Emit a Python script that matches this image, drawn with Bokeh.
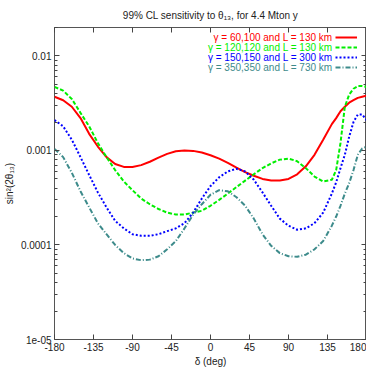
from bokeh.plotting import figure
from bokeh.models import (FixedTicker, LogAxis, LinearAxis, CustomJSTickFormatter,
                          Label, Legend, LegendItem, Range1d)
from bokeh.embed import file_html
from bokeh.resources import INLINE

# ---- data -------------------------------------------------------------
delta = [-180, -170, -160, -150, -140, -130, -120, -110, -100, -90, -80, -70,
         -60, -50, -40, -30, -20, -10, 0, 10, 20, 30, 40, 50, 60, 70, 80, 90,
         100, 110, 120, 130, 140, 145, 150, 155, 160, 165, 170, 175, 180]

red_60_100 = [0.0037, 0.0034, 0.0029, 0.0022, 0.0015, 0.0011, 0.00085, 0.00072,
              0.00067, 0.00067, 0.00070, 0.00076, 0.00084, 0.00092, 0.00098,
              0.0010, 0.00099, 0.00095, 0.00089, 0.00082, 0.00074, 0.00066,
              0.00059, 0.00054, 0.00050, 0.00048, 0.00048, 0.00050, 0.00056,
              0.00068, 0.0009, 0.0013, 0.0019, 0.0022, 0.0026, 0.0029, 0.0032,
              0.0034, 0.0036, 0.0037, 0.0038]

green_120_120 = [0.0047, 0.0043, 0.0035, 0.0025, 0.0018, 0.0012, 0.00085,
                 0.00062, 0.00047, 0.00038, 0.00031, 0.00027, 0.00024, 0.00022,
                 0.00021, 0.00021, 0.00022, 0.00023, 0.00026, 0.00030, 0.00035,
                 0.00041, 0.00048, 0.00056, 0.00065, 0.00073, 0.00080, 0.00082,
                 0.00077, 0.00065, 0.00053, 0.00047, 0.00049, 0.00062, 0.0012,
                 0.0029, 0.0039, 0.0045, 0.0048, 0.0048, 0.0047]

blue_150_150 = [0.0021, 0.0018, 0.0013, 0.00085, 0.00055, 0.00036, 0.00025,
                0.00018, 0.00015, 0.00013, 0.000125, 0.000125, 0.00013,
                0.00014, 0.00015, 0.00017, 0.00022, 0.00031, 0.00042, 0.00052,
                0.00060, 0.00064, 0.00060, 0.00049, 0.00036, 0.00026, 0.00019,
                0.00016, 0.000145, 0.00015, 0.00017, 0.00022, 0.00035, 0.00046,
                0.00065, 0.0009, 0.0014, 0.0020, 0.0024, 0.0024, 0.0021]

teal_350_350 = [0.00104, 0.00085, 0.00058, 0.00037, 0.00025, 0.00017, 0.00013,
                0.0001, 0.000082, 0.000072, 0.000069, 0.00007, 0.000076,
                0.00009, 0.00011, 0.00015, 0.00021, 0.00027, 0.00034, 0.00038,
                0.00037, 0.00032, 0.00026, 0.00019, 0.00013, 0.000098,
                0.000082, 0.000076, 0.000075, 0.000079, 0.00009, 0.00011,
                0.00016, 0.0002, 0.00026, 0.00035, 0.00045, 0.00062, 0.0009,
                0.00105, 0.0011]

series_labels = ["\u03b3 = 60,100 and L = 130 km",
                 "\u03b3 = 120,120 and L = 130 km",
                 "\u03b3 = 150,150 and L = 300 km",
                 "\u03b3 = 350,350 and L = 730 km"]

x_ticks = [-180, -135, -90, -45, 0, 45, 90, 135, 180]
y_ticks = [1e-5, 1e-4, 1e-3, 1e-2]
y_tick_labels = ["1e-05", "0.0001", "0.001", "0.01"]
y_minor = [m * 10.0 ** e for e in range(-5, -1) for m in range(2, 10)] + [2e-2]

title_text = "99% CL sensitivity to \u03b8\u2081\u2083, for 4.4 Mton y"
x_label = "\u03b4 (deg)"
y_label = "sin\u00b2(2\u03b8\u2081\u2083)"

# ---- styling ----------------------------------------------------------
FONT = "'Liberation Sans Narrow', 'Liberation Sans'"
colors = ["#ff0000", "#00ee00", "#0000ff", "#3d8b8b"]
dashes = ["solid", "4 2", "2 2", "5 2 1 2"]
widths = [2, 2, 2, 2]

FRAME_W, FRAME_H = 312, 312

p = figure(frame_width=FRAME_W, frame_height=FRAME_H, output_backend="svg",
           toolbar_location=None, y_axis_type="log",
           x_range=Range1d(-180, 180), y_range=Range1d(1e-5, 2e-2),
           min_border_left=0, min_border_right=0, min_border_top=0,
           min_border_bottom=0)

p.title.text = title_text
p.title.align = "center"
p.title.text_font = FONT
p.title.text_font_size = "10px"
p.title.text_font_style = "normal"
p.title.text_color = "#222222"
p.title.standoff = 14

p.xgrid.visible = False
p.ygrid.visible = False
p.outline_line_color = "#555555"
p.outline_line_width = 1

xt = FixedTicker(ticks=x_ticks)
yt = FixedTicker(ticks=y_ticks, minor_ticks=y_minor)
yfmt = CustomJSTickFormatter(args=dict(tvals=y_ticks, tlabels=y_tick_labels), code="""
    for (let i = 0; i < tvals.length; i++) {
        if (Math.abs(Math.log10(tvals[i]) - Math.log10(tick)) < 1e-6) return tlabels[i];
    }
    return "";
""")
xfmt = CustomJSTickFormatter(code="return String(Math.round(tick));")
blank = CustomJSTickFormatter(code="return '';")

def style_axis(ax):
    ax.axis_line_color = None
    ax.major_tick_in = 5
    ax.major_tick_out = 0
    ax.minor_tick_in = 3
    ax.minor_tick_out = 0
    ax.major_tick_line_color = "#444444"
    ax.minor_tick_line_color = "#444444"
    ax.major_label_text_font = FONT
    ax.major_label_text_font_size = "10px"
    ax.major_label_text_color = "#222222"
    ax.axis_label_text_font = FONT
    ax.axis_label_text_font_size = "10px"
    ax.axis_label_text_font_style = "normal"
    ax.axis_label_text_color = "#222222"

xa = p.xaxis[0]
xa.ticker = xt
xa.formatter = xfmt
xa.axis_label = x_label
xa.major_label_standoff = 3
xa.axis_label_standoff = 2
style_axis(xa)

ya = p.yaxis[0]
ya.ticker = yt
ya.formatter = yfmt
ya.axis_label = y_label
ya.major_label_standoff = 3
ya.axis_label_standoff = 3
style_axis(ya)

top = LinearAxis(ticker=xt, formatter=blank)
style_axis(top)
top.major_label_standoff = 0
top.major_label_text_font_size = "4px"
p.add_layout(top, "above")

right = LogAxis(ticker=yt, formatter=blank)
style_axis(right)
right.major_label_standoff = 0
right.major_label_text_font_size = "4px"
p.add_layout(right, "right")

renderers = []
for ys, c, d, w in zip([red_60_100, green_120_120, blue_150_150, teal_350_350],
                       colors, dashes, widths):
    r = p.line(delta, ys, line_color=c, line_dash=d, line_width=w)
    renderers.append(r)

# legend: sample lines (text drawn separately in series colours)
legend = Legend(items=[LegendItem(label=" ", renderers=[r]) for r in renderers],
                location="top_right", orientation="vertical",
                glyph_width=22, glyph_height=10, label_height=10, label_width=4,
                label_standoff=0, label_text_font_size="6px", label_text_alpha=0,
                spacing=0, padding=0, margin=5, background_fill_alpha=0,
                border_line_color=None)
p.add_layout(legend)

for i, (txt, c) in enumerate(zip(series_labels, colors)):
    p.add_layout(Label(x=FRAME_W - 34, y=FRAME_H - 10 - 10 * i, x_units="screen",
                       y_units="screen", text=txt, text_color=c, text_font=FONT,
                       text_font_size="10px", text_align="right",
                       text_baseline="middle"))

open("out.html", "w").write(file_html(p, INLINE))
